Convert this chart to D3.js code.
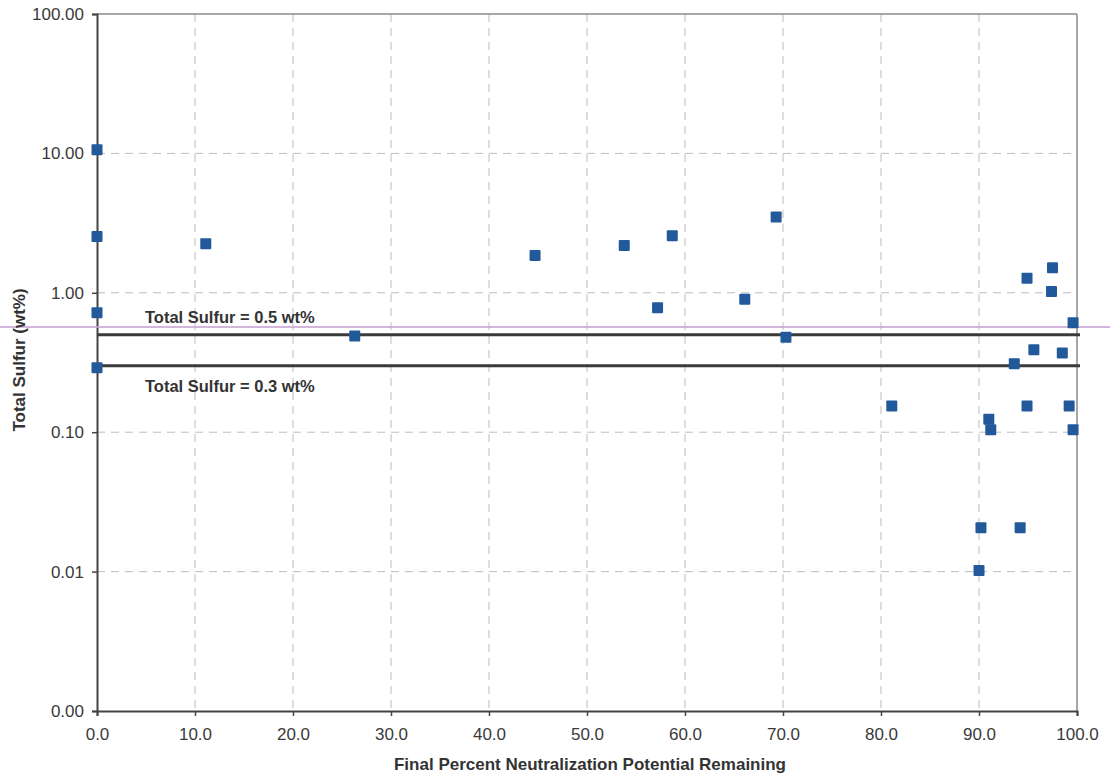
<!doctype html>
<html>
<head>
<meta charset="utf-8">
<script src="https://cdn.jsdelivr.net/npm/d3@7"></script>
<style>
  body { margin: 0; background: #fff; }
  svg text { font-family: "Liberation Sans", Arial, sans-serif; }
</style>
</head>
<body>
<svg id="chart" width="1110" height="774"></svg>
<script>
// percent NP remaining vs total sulfur (wt%)
var npRemaining = [0, 0, 0, 0, 11.1, 26.3, 44.7, 53.8, 58.7, 57.2, 66.1, 69.3, 70.3,
  81.1, 94.9, 97.5, 97.4, 99.6, 95.6, 98.5, 93.6, 94.9, 99.2, 91.0, 91.2, 99.6, 90.2, 94.2, 90.0];
var totalSulfur = [10.6, 2.53, 0.72, 0.29, 2.25, 0.49, 1.85, 2.18, 2.57, 0.78, 0.9, 3.5, 0.48,
  0.154, 1.27, 1.51, 1.02, 0.61, 0.39, 0.37, 0.31, 0.154, 0.154, 0.124, 0.104, 0.104, 0.0206, 0.0206, 0.0102];
var xTicks = [0, 10, 20, 30, 40, 50, 60, 70, 80, 90, 100];
var yTicks = [100, 10, 1, 0.1, 0.01, 0.001];
var refLines = [
  { value: 0.5, label: "Total Sulfur = 0.5 wt%", pos: "above" },
  { value: 0.3, label: "Total Sulfur = 0.3 wt%", pos: "below" }
];

var svg = d3.select("#chart");
var pLeft = 97, pRight = 1077, pTop = 14, pBottom = 711;

var x = d3.scaleLinear().domain([0, 100]).range([pLeft, pRight]);
var y = d3.scaleLog().domain([0.001, 100]).range([pBottom, pTop]);

// grid
svg.append("g").selectAll("line")
  .data(xTicks.slice(1, -1)).enter().append("line")
  .attr("x1", d => x(d)).attr("x2", d => x(d))
  .attr("y1", pTop).attr("y2", pBottom)
  .style("stroke", "#bdbdbd").style("stroke-dasharray", "8,6").style("stroke-width", 1);
svg.append("g").selectAll("line")
  .data(yTicks.slice(1, -1)).enter().append("line")
  .attr("x1", pLeft).attr("x2", pRight)
  .attr("y1", d => y(d)).attr("y2", d => y(d))
  .style("stroke", "#bdbdbd").style("stroke-dasharray", "8,6").style("stroke-width", 1);

// frame top/right
svg.append("line").attr("x1", pLeft).attr("x2", pRight).attr("y1", pTop).attr("y2", pTop)
  .style("stroke", "#8a8a8a").style("stroke-width", 1.5);
svg.append("line").attr("x1", pRight).attr("x2", pRight).attr("y1", pTop).attr("y2", pBottom)
  .style("stroke", "#8a8a8a").style("stroke-width", 1.5);

// axes
var xAxis = d3.axisBottom(x).tickValues(xTicks).tickFormat(d3.format(".1f")).tickSize(5).tickPadding(12);
var yAxis = d3.axisLeft(y).tickValues(yTicks).tickFormat(d3.format(".2f")).tickSize(5).tickPadding(8);

var gx = svg.append("g").attr("transform", "translate(0," + pBottom + ")").call(xAxis);
var gy = svg.append("g").attr("transform", "translate(" + pLeft + ",0)").call(yAxis);
[gx, gy].forEach(function (g) {
  g.select(".domain").style("stroke", "#444").style("stroke-width", 2);
  g.selectAll(".tick line").style("stroke", "#444").style("stroke-width", 1.5);
  g.selectAll(".tick text").style("font-size", "17px").style("fill", "#3a3a3a");
});

// pink scan line
svg.append("line").attr("x1", 0).attr("x2", 1110).attr("y1", 327).attr("y2", 327)
  .style("stroke", "#c9a3d6").style("stroke-width", 2).style("opacity", 0.8);

// reference lines
refLines.forEach(function (r) {
  svg.append("line")
    .attr("x1", pLeft).attr("x2", pRight + 3)
    .attr("y1", y(r.value)).attr("y2", y(r.value))
    .style("stroke", "#3a3a3a").style("stroke-width", 3);
  svg.append("text")
    .attr("x", 145)
    .attr("y", r.pos == "above" ? y(r.value) - 12 : y(r.value) + 26)
    .text(r.label)
    .style("font-size", "16.5px").style("font-weight", "bold").style("fill", "#333");
});

// points
var pts = npRemaining.map(function (d, i) { return { x: d, y: totalSulfur[i] }; });
svg.append("g").selectAll("rect")
  .data(pts).enter().append("rect")
  .attr("x", d => x(d.x) - 5.5).attr("y", d => y(d.y) - 5.5)
  .attr("width", 11).attr("height", 11).attr("rx", 1)
  .style("fill", "#22599a");

// axis titles
svg.append("text")
  .attr("x", 590).attr("y", 770)
  .attr("text-anchor", "middle")
  .text("Final Percent Neutralization Potential Remaining")
  .style("font-size", "17px").style("font-weight", "bold").style("fill", "#333");
svg.append("text")
  .attr("transform", "translate(25,360) rotate(-90)")
  .attr("text-anchor", "middle")
  .text("Total Sulfur (wt%)")
  .style("font-size", "17px").style("font-weight", "bold").style("fill", "#333");
</script>
</body>
</html>
